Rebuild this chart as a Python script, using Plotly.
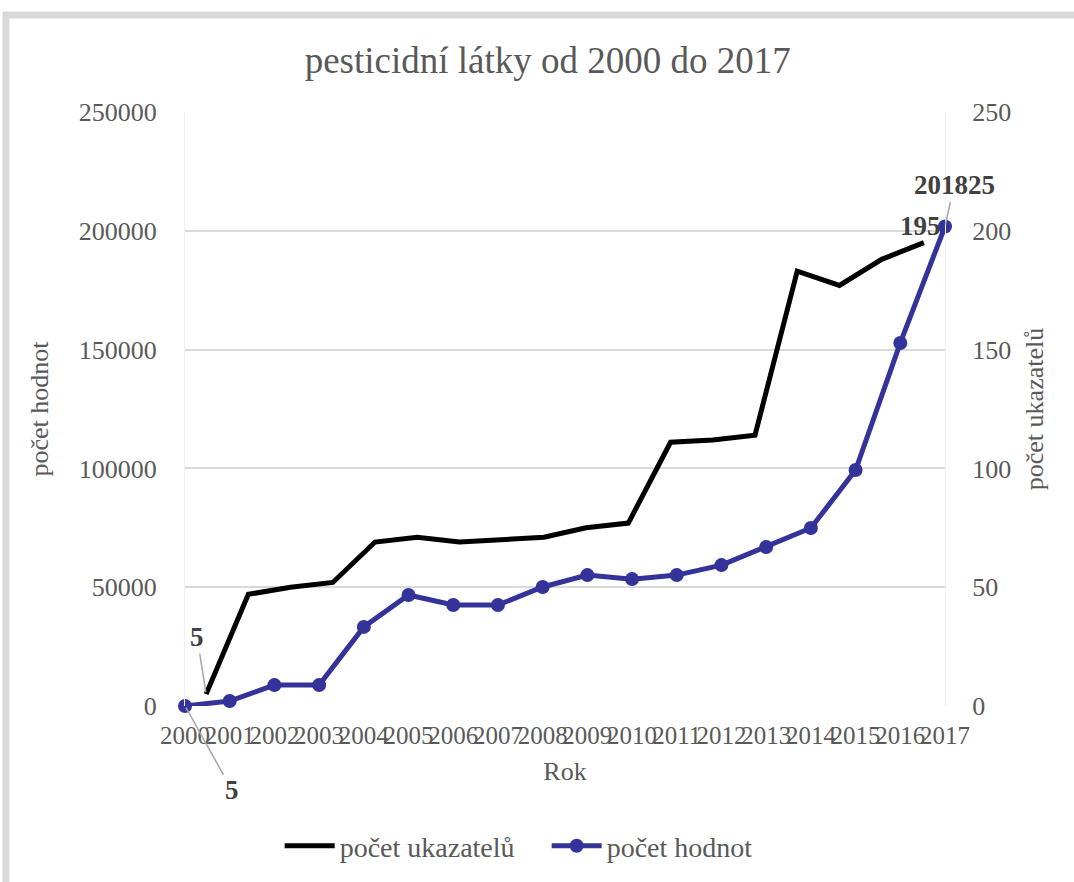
import plotly.graph_objects as go

years = [str(y) for y in range(2000, 2018)]
pocet_hodnot = [5, 2100, 8800, 8800, 33300, 46700, 42500, 42500, 50100, 55100,
                53400, 55100, 59300, 66900, 74900, 99300, 152800, 201825]
pocet_ukazatelu = [5, 47, 50, 52, 69, 71, 69, 70, 71, 75, 77, 111, 112, 114, 183, 177, 188, 195]

W, H = 1074, 882
ML, MR, MT, MB = 185, 129, 112, 176
FONT = "Liberation Serif"
GRAY = "#595959"
BLUE = "#333399"

fig = go.Figure()
fig.add_trace(go.Scatter(
    x=years, y=pocet_ukazatelu, name="počet ukazatelů", mode="lines",
    line=dict(color="black", width=5), xaxis="x2", yaxis="y2", cliponaxis=False))
fig.add_trace(go.Scatter(
    x=years, y=pocet_hodnot, name="počet hodnot", mode="lines+markers",
    line=dict(color=BLUE, width=5), marker=dict(color=BLUE, size=14),
    xaxis="x", yaxis="y", cliponaxis=False))

pw = W - ML - MR
ph = H - MT - MB
def px(x):
    return (x - ML) / pw
def py(y):
    return (H - MB - y) / ph

fig.update_layout(
    width=W, height=H,
    margin=dict(l=ML, r=MR, t=MT, b=MB),
    paper_bgcolor="white", plot_bgcolor="white",
    font=dict(family=FONT, color=GRAY, size=26),
    title=dict(text="pesticidní látky od 2000 do 2017", x=0.51, xref="container",
               xanchor="center", y=1 - 60 / H, yref="container", yanchor="middle",
               font=dict(size=37, color=GRAY)),
    xaxis=dict(type="category", categoryorder="array", categoryarray=years,
               range=[0, 17], showgrid=False, zeroline=False, showline=False,
               tickmode="array", tickvals=years, ticktext=years, tickangle=0,
               tickfont=dict(size=25), ticks="", ticklabelstandoff=12,
               title=dict(text="Rok", font=dict(size=26), standoff=13)),
    xaxis2=dict(type="category", categoryorder="array", categoryarray=years,
                range=[-0.5, 17.5], overlaying="x", visible=False),
    yaxis=dict(range=[0, 250000], dtick=50000, tickformat="d",
               showgrid=True, gridcolor="#d9d9d9", gridwidth=1.5,
               zeroline=False, showline=True, linecolor="#f0f0f0",
               ticks="", ticklabelstandoff=22,
               title=dict(text="počet hodnot", font=dict(size=26), standoff=22)),
    yaxis2=dict(range=[0, 250], dtick=50, overlaying="y", side="right",
                showgrid=False, zeroline=False, showline=True, linecolor="#f0f0f0",
                ticks="", ticklabelstandoff=21,
                title=dict(text="počet ukazatelů", font=dict(size=26), standoff=14)),
    legend=dict(orientation="h", x=0.509, xref="container", xanchor="center",
                y=1 - 846 / H, yref="container", yanchor="middle",
                font=dict(size=28, color=GRAY), itemwidth=50,
                entrywidth=202, entrywidthmode="pixels"),
    showlegend=True,
)

lbl = dict(size=27, color="#404040", family=FONT)
first, last = 0, len(years) - 1
fig.add_annotation(x=first, y=pocet_ukazatelu[first], xref="x2", yref="y2",
                   text="<b>5</b>", showarrow=True, arrowhead=0, arrowwidth=1.5,
                   arrowcolor="#a6a6a6", ax=-9, ay=-57, font=lbl, standoff=2)
fig.add_annotation(x=first, y=pocet_hodnot[first], xref="x", yref="y",
                   text="<b>5</b>", showarrow=True, arrowhead=0, arrowwidth=1.5,
                   arrowcolor="#a6a6a6", ax=47, ay=84, font=lbl, standoff=2)
fig.add_annotation(x=last, y=pocet_hodnot[last], xref="x", yref="y",
                   text="<b>201825</b>", showarrow=True, arrowhead=0, arrowwidth=1.5,
                   arrowcolor="#a6a6a6", ax=9, ay=-41, font=lbl, standoff=2)
fig.add_annotation(x=last, y=pocet_ukazatelu[last], xref="x2", yref="y2",
                   text="<b>195</b>", showarrow=False, xshift=-3, yshift=17, font=lbl)

# chart border
fig.add_shape(type="rect", xref="paper", yref="paper",
              x0=px(6), x1=px(W + 20), y0=py(H + 20), y1=py(15),
              line=dict(color="#d9d9d9", width=7), fillcolor="rgba(0,0,0,0)",
              layer="below")

fig.write_html("out.html", config={"displayModeBar": False},
               post_script="document.body.style.margin='0';")
